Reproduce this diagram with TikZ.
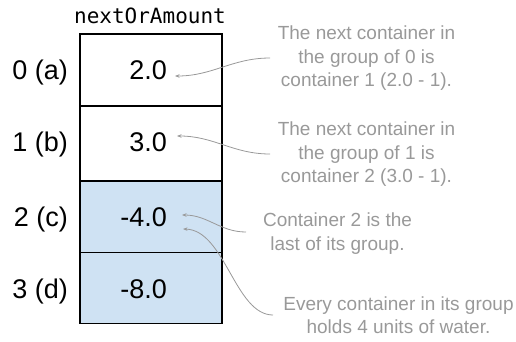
\documentclass[tikz,border=0pt]{standalone}
\usepackage{fontspec}
\setmainfont{Liberation Sans}
\newfontfamily\codefont{DejaVu Sans Mono}
\usetikzlibrary{arrows.meta}
\definecolor{cellblue}{HTML}{CFE2F3}
\definecolor{notegray}{HTML}{999999}
\begin{document}
\begin{tikzpicture}[x=1pt,y=-1pt,
  cell/.style={draw=black, line width=1.5pt, minimum width=142pt, inner sep=0pt, anchor=north west},
  val/.style={anchor=base east, inner sep=0pt, font=\fontsize{27}{27}\selectfont},
  idx/.style={anchor=base east, inner sep=0pt, font=\fontsize{27}{27}\selectfont},
  note/.style={text=notegray, align=center, inner sep=0pt, font=\fontsize{19}{23.5}\selectfont},
  link/.style={draw=notegray, line width=0.8pt, -{Stealth[length=4.5pt,width=3.5pt]}}]
\useasboundingbox (0,0) rectangle (516,341);
% header
\node[inner sep=0pt, font=\codefont\fontsize{21}{21}\selectfont] (hdr) at (150,16) {nextOrAmount};
% cells
\node[cell, minimum height=72pt] (c0) at (79,33.3) {};
\node[cell, minimum height=75pt] (c1) at (79,105.3) {};
\node[cell, fill=cellblue, minimum height=71.4pt] (c2) at (79,180.3) {};
\node[cell, fill=cellblue, minimum height=71pt] (c3) at (79,251.7) {};
% values
\node[val] (v0) at (167,79) {2.0};
\node[val] (v1) at (167,151) {3.0};
\node[val] (v2) at (167,226) {-4.0};
\node[val] (v3) at (167,298) {-8.0};
% indices
\node[idx] (i0) at (68,79) {0 (a)};
\node[idx] (i1) at (68,151) {1 (b)};
\node[idx] (i2) at (68,226) {2 (c)};
\node[idx] (i3) at (68,298) {3 (d)};
% notes
\node[note] (n0) at (366.5,58.5) {The next container in\\the group of 0 is\\container 1 (2.0 - 1).};
\node[note] (n1) at (366.5,154.5) {The next container in\\the group of 1 is\\container 2 (3.0 - 1).};
\node[note] (n2) at (337.5,233.5) {Container 2 is the\\last of its group.};
\node[note] (n3) at (398.5,315) {Every container in its group\\holds 4 units of water.};
% connector ends
\coordinate (s0) at (270,58);
\coordinate (t0) at (175,76);
\coordinate (s1) at (270,154);
\coordinate (t1) at (177,136);
\coordinate (s2) at (246,232);
\coordinate (t2) at (182,215);
\coordinate (s3) at (273,315);
\coordinate (t3) at (183,229);
% connectors
\draw[link] (s0) to[out=180,in=0] (t0);
\draw[link] (s1) to[out=180,in=0] (t1);
\draw[link] (s2) to[out=180,in=0] (t2);
\draw[link] (s3) .. controls (235,315) and (225,230) .. (t3);
\end{tikzpicture}
\end{document}
